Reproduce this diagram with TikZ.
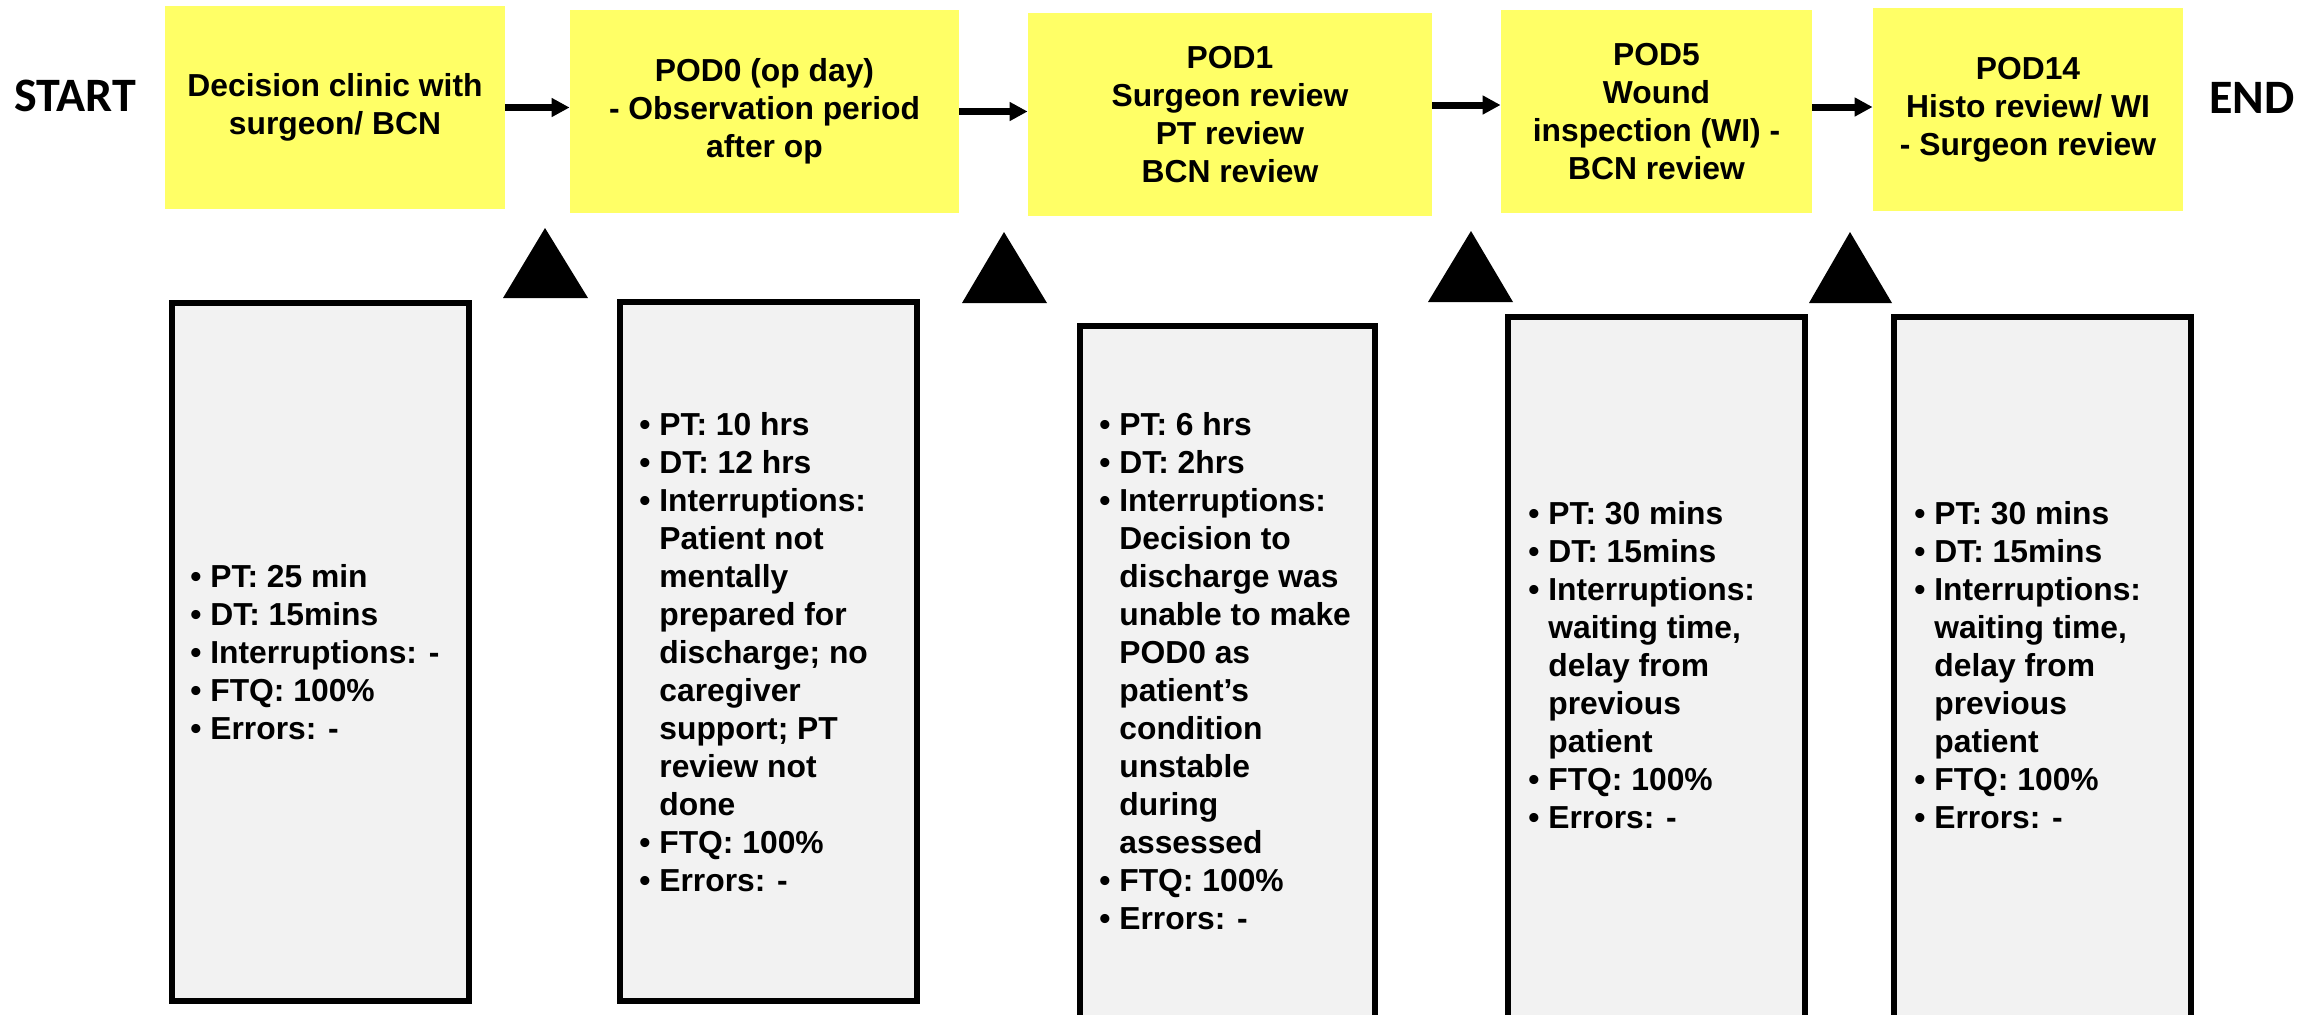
\documentclass[tikz,border=0pt]{standalone}
\usepackage{fontspec}
\setmainfont{Liberation Sans}
\newfontfamily\calibri{Carlito}
\usetikzlibrary{arrows.meta}
\definecolor{ybox}{HTML}{FFFF66}
\definecolor{gfill}{HTML}{F2F2F2}
\newcommand{\bl}[1]{\makebox[10pt][l]{\textbullet}#1\strut}
\newcommand{\cl}[1]{\hspace*{10pt}#1\strut}
\newcommand{\boxfont}{\fontsize{15.9pt}{19pt}\selectfont\bfseries}
\tikzset{
  yellowbx/.style={rectangle, fill=ybox, inner sep=0pt, align=center, font=\boxfont},
  graybx/.style={rectangle, draw=black, line width=3pt, fill=gfill, inner sep=0pt},
  graytxt/.style={anchor=west, inner sep=0pt, align=left, font=\boxfont},
  endlabel/.style={inner sep=0pt, anchor=base west, font=\calibri\fontsize{24pt}{28pt}\selectfont\bfseries},
  arr/.style={line width=3.5pt, -{Triangle[length=9pt,width=9pt]}}
}
\begin{document}
\begin{tikzpicture}[x=0.5pt,y=-0.5pt]
\useasboundingbox (0,0) rectangle (2320,1014);
\clip (0,0) rectangle (2320,1014);

\node[endlabel] (start) at (14,111) {START};
\node[endlabel] (end) at (2209,113) {END};

\node[yellowbx, minimum width=170pt, minimum height=101.5pt] (Y1) at (335,107.5) {Decision clinic with\\surgeon/ BCN};
\node[yellowbx, minimum width=194.5pt, minimum height=101.5pt] (Y2) at (764.5,111.5) {POD0 (op day)\\- Observation period\\after op};
\node[yellowbx, minimum width=202pt, minimum height=101.5pt] (Y3) at (1230,114.5) {POD1\\Surgeon review\\PT review\\BCN review};
\node[yellowbx, minimum width=155.5pt, minimum height=101.5pt] (Y4) at (1656.5,111.5) {POD5\\Wound\\inspection (WI) -\\BCN review};
\node[yellowbx, minimum width=155pt, minimum height=101.5pt] (Y5) at (2028,109.5) {POD14\\Histo review/ WI\\- Surgeon review};

\draw[arr] (Y1.east) -- (Y1.east -| Y2.west);
\draw[arr] (Y2.east) -- (Y2.east -| Y3.west);
\draw[arr] ([yshift=4.75pt]Y3.east) -- ([yshift=4.75pt]Y3.east -| Y4.west);
\draw[arr] ([yshift=2.25pt]Y4.east) -- ([yshift=2.25pt]Y4.east -| Y5.west);

\fill (503,298) -- (545,228) -- (588,298) -- cycle;
\fill (962,303) -- (1004,232) -- (1047,303) -- cycle;
\fill (1428,302) -- (1471,231) -- (1513,302) -- cycle;
\fill (1809,303) -- (1850,232) -- (1892,303) -- cycle;

\node[graybx, minimum width=148.5pt, minimum height=349pt] (G1) at (320.5,652) {};
\node[graybx, minimum width=148.5pt, minimum height=349.5pt] (G2) at (768.5,651.5) {};
\node[graybx, minimum width=147.5pt, minimum height=357pt] (G3) at (1227.5,683) {};
\node[graybx, minimum width=148.5pt, minimum height=361.5pt] (G4) at (1656.5,678.5) {};
\node[graybx, minimum width=148.5pt, minimum height=361.5pt] (G5) at (2042.5,678.5) {};

\node[graytxt] (T1) at (190,655.4) {\bl{PT: 25 min}\\\bl{DT: 15mins}\\\bl{Interruptions: -}\\\bl{FTQ: 100\%}\\\bl{Errors: -}};
\node[graytxt] (T2) at (639,655.9) {\bl{PT: 10 hrs}\\\bl{DT: 12 hrs}\\\bl{Interruptions:}\\\cl{Patient not}\\\cl{mentally}\\\cl{prepared for}\\\cl{discharge; no}\\\cl{caregiver}\\\cl{support; PT}\\\cl{review not}\\\cl{done}\\\bl{FTQ: 100\%}\\\bl{Errors: -}};
\node[graytxt] (T3) at (1099,674.4) {\bl{PT: 6 hrs}\\\bl{DT: 2hrs}\\\bl{Interruptions:}\\\cl{Decision to}\\\cl{discharge was}\\\cl{unable to make}\\\cl{POD0 as}\\\cl{patient’s}\\\cl{condition}\\\cl{unstable}\\\cl{during}\\\cl{assessed}\\\bl{FTQ: 100\%}\\\bl{Errors: -}};
\node[graytxt] (T4) at (1528,668.9) {\bl{PT: 30 mins}\\\bl{DT: 15mins}\\\bl{Interruptions:}\\\cl{waiting time,}\\\cl{delay from}\\\cl{previous}\\\cl{patient}\\\bl{FTQ: 100\%}\\\bl{Errors: -}};
\node[graytxt] (T5) at (1914,668.9) {\bl{PT: 30 mins}\\\bl{DT: 15mins}\\\bl{Interruptions:}\\\cl{waiting time,}\\\cl{delay from}\\\cl{previous}\\\cl{patient}\\\bl{FTQ: 100\%}\\\bl{Errors: -}};
\end{tikzpicture}
\end{document}
